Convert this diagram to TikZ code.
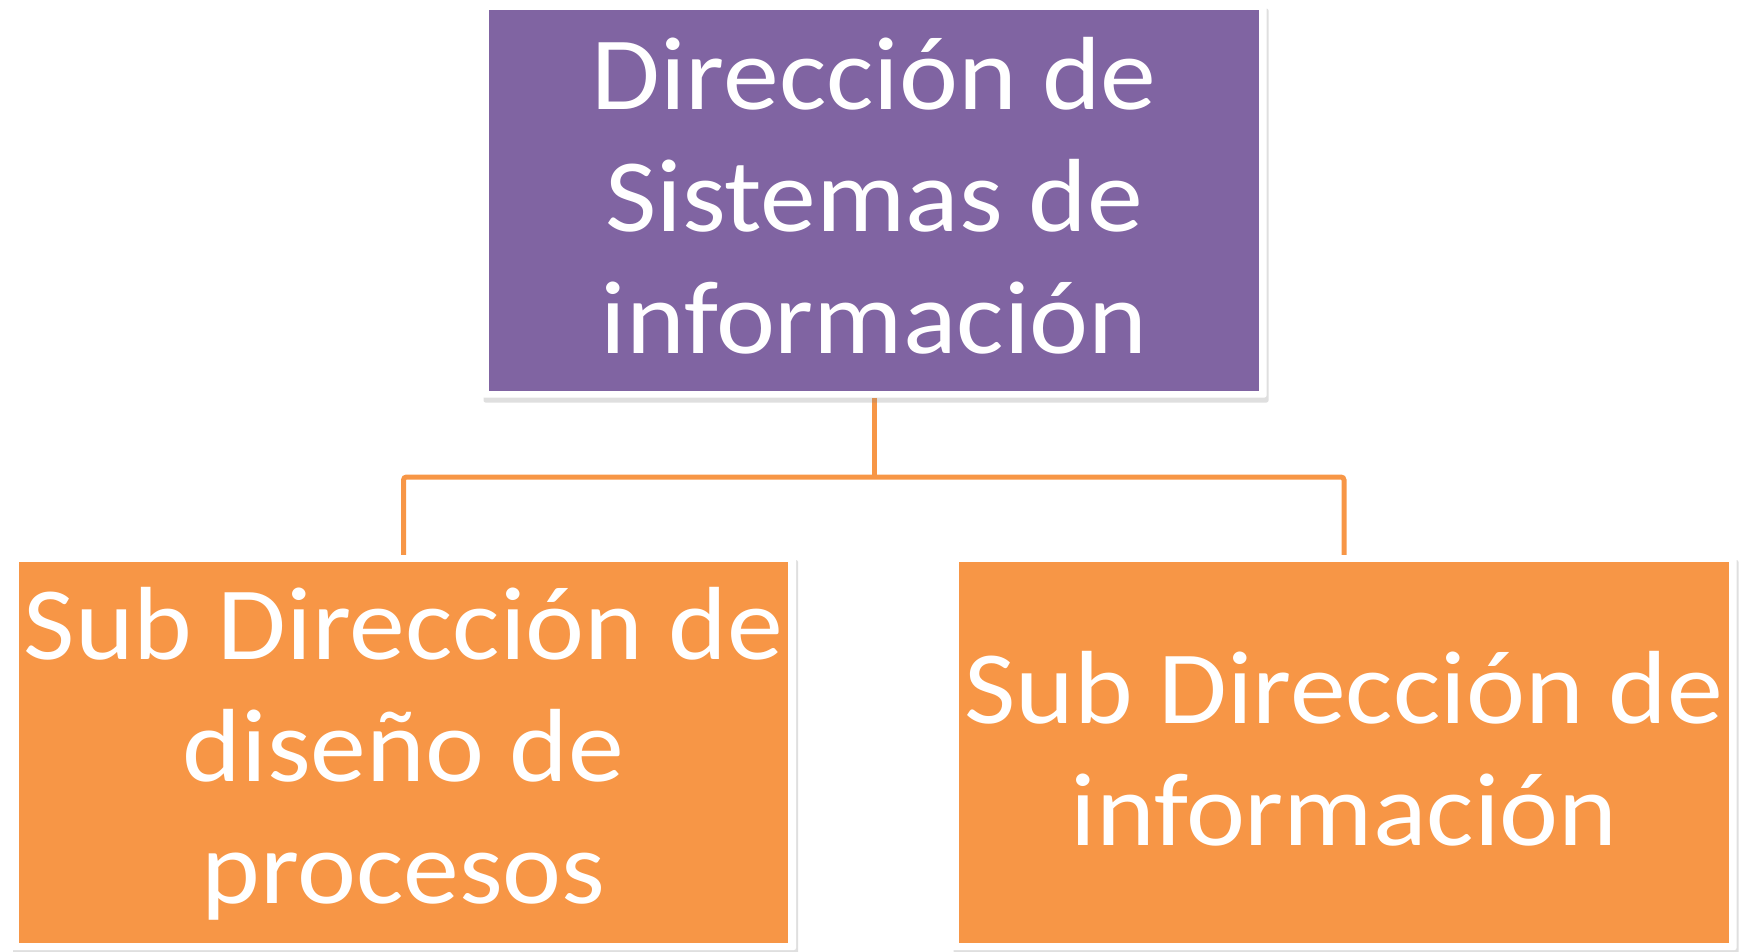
\documentclass[tikz,border=0pt]{standalone}
\usepackage{fontspec}
\setmainfont{Carlito}[FakeStretch=1.075]
\usetikzlibrary{shadows,backgrounds}
\definecolor{purp}{HTML}{8064A2}
\definecolor{oran}{HTML}{F79646}
\tikzset{
  frame/.style={fill=white, inner sep=0pt, outer sep=0pt, rounded corners=2pt,
    drop shadow={opacity=0.25, shadow xshift=2pt, shadow yshift=-5pt}},
  boxnode/.style={inner sep=0pt, outer sep=0pt, text=white, align=center,
    font=\fontsize{104}{122}\selectfont, minimum width=770pt, minimum height=381pt},
  conn/.style={draw=oran, line width=5pt, rounded corners=3pt}
}
\begin{document}
\begin{tikzpicture}[x=1pt,y=-1pt]
\useasboundingbox (0,0) rectangle (1742,951);
\node[frame, minimum width=785pt, minimum height=394pt] (topf) at (874,200.5) {};
\node[boxnode, fill=purp, text depth=11pt] (top) at (874,200.5) {Dirección de\\Sistemas de\\información};
\node[frame, minimum width=785pt, minimum height=395pt] (leftf) at (403.5,752.5) {};
\node[boxnode, fill=oran, minimum width=769pt, text depth=14pt] (left) at (403.5,752.5) {Sub Dirección de\\diseño de\\procesos};
\node[frame, minimum width=785pt, minimum height=395pt] (rightf) at (1344,752.5) {};
\node[boxnode, fill=oran, text depth=9pt] (right) at (1344,752.5) {Sub Dirección de\\información};
\coordinate (j) at (874,477);
\begin{scope}[on background layer]
\draw[conn] (topf.south) -- (j);
\draw[conn] (leftf.north) |- (j) -| (rightf.north);
\end{scope}
\end{tikzpicture}
\end{document}
